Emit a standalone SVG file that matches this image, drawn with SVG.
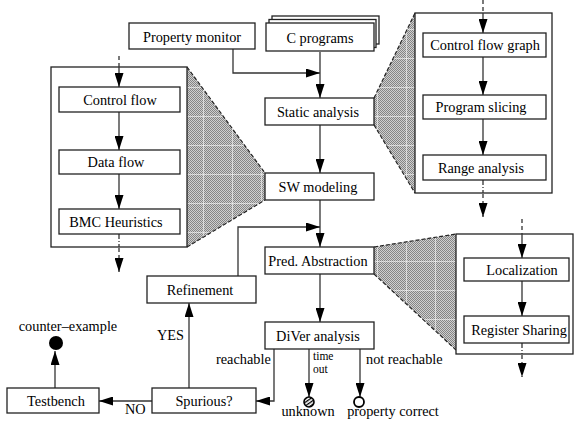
<svg xmlns="http://www.w3.org/2000/svg" width="574" height="423" viewBox="0 0 574 423">
<style>
.box{fill:#fff;stroke:#222;stroke-width:1.3}
.frame{fill:#fff;stroke:#222;stroke-width:1.3}
.t{font-family:"Liberation Serif","Times New Roman",serif;font-size:14.3px;fill:#000}
.s{font-size:11.5px}
.c{text-anchor:middle}
.ln{fill:none;stroke:#333;stroke-width:1.3}
.arr{marker-end:url(#ah)}
.dash{stroke-dasharray:4,3}
.dd{stroke-dasharray:5,2,1,2}
.edge{fill:none;stroke:#222;stroke-width:1.2;stroke-dasharray:4,2}
.shade{fill:url(#chk);stroke:none}
.grid{fill:url(#grd);stroke:none}
</style>
<defs>
<marker id="ah" viewBox="0 0 14 9" refX="14" refY="4.5" markerWidth="14" markerHeight="9" markerUnits="userSpaceOnUse" orient="auto">
<path d="M0,0 L14,4.5 L0,9 Z" fill="#000"/>
</marker>
<pattern id="chk" width="2" height="2" patternUnits="userSpaceOnUse">
<rect width="2" height="2" fill="#cfcfcf"/>
<rect width="1" height="1" fill="#858585"/>
<rect x="1" y="1" width="1" height="1" fill="#858585"/>
</pattern>
<pattern id="grd" width="29" height="29" patternUnits="userSpaceOnUse">
<path d="M0,0.5 H29 M0.5,0 V29" stroke="#fff" stroke-width="1" opacity="0.55" fill="none"/>
</pattern>
<pattern id="diag" width="3" height="3" patternUnits="userSpaceOnUse" patternTransform="rotate(-35)">
<rect width="3" height="3" fill="#fff"/>
<rect width="3" height="1.3" fill="#000"/>
</pattern>
</defs>

<g id="zoom-left">
<polygon class="shade" points="187,67 265,173 265,200 187,247"/>
<polygon class="grid" points="187,67 265,173 265,200 187,247"/>
<path class="edge" d="M187,67 L265,173 M187,247 L265,200"/>
</g>
<g id="zoom-right-top">
<polygon class="shade" points="374,98 415,13 415,193 374,125"/>
<polygon class="grid" points="374,98 415,13 415,193 374,125"/>
<path class="edge" d="M374,98 L415,13 M374,125 L415,193"/>
</g>
<g id="zoom-right-bottom">
<polygon class="shade" points="374,247 456,234 456,350 374,274"/>
<polygon class="grid" points="374,247 456,234 456,350 374,274"/>
<path class="edge" d="M374,247 L456,234 M374,274 L456,350"/>
</g>

<g id="left-frame">
<rect class="frame" x="51" y="67" width="136" height="180"/>
</g>
<g id="right-top-frame">
<rect class="frame" x="415" y="13" width="137" height="180"/>
</g>
<g id="right-bottom-frame">
<rect class="frame" x="456" y="234" width="117" height="120"/>
</g>

<g id="connectors">
<path class="ln arr" d="M233,49 V73 H320"/>
<path class="ln arr" d="M320,52 V98"/>
<path class="ln arr" d="M320,125 V173"/>
<path class="ln arr" d="M320,200 V247"/>
<path class="ln arr" d="M238,276 V227 H320"/>
<path class="ln arr" d="M320,274 V322"/>
<path class="ln arr" d="M274,349 V401 H256"/>
<path class="ln arr" d="M309,349 V397"/>
<path class="ln arr" d="M360,349 V397"/>
<path class="ln arr" d="M189,388 V303"/>
<path class="ln arr" d="M152,401 H99"/>
<path class="ln arr" d="M55,388 V351"/>
<path class="ln dash" d="M119,56 V67"/>
<path class="ln arr" d="M119,67 V87"/>
<path class="ln arr" d="M119,112 V150"/>
<path class="ln arr" d="M119,174 V209"/>
<path class="ln dd" d="M119,234 V247"/>
<path class="ln dash arr" d="M119,248 V272"/>
<path class="ln dash" d="M483,0 V13"/>
<path class="ln arr" d="M483,13 V33"/>
<path class="ln arr" d="M483,57 V95"/>
<path class="ln arr" d="M483,119 V155"/>
<path class="ln dd" d="M483,180 V193"/>
<path class="ln dash arr" d="M483,194 V217"/>
<path class="ln dash" d="M522,219 V234"/>
<path class="ln arr" d="M522,234 V258"/>
<path class="ln arr" d="M522,281 V316"/>
<path class="ln dd" d="M522,343 V354"/>
<path class="ln dash arr" d="M522,355 V377"/>
</g>

<g id="property-monitor">
<rect class="box" x="129" y="23" width="126" height="26"/>
<text class="t c" x="192" y="42">Property monitor</text>
</g>
<g id="c-programs">
<rect class="box" x="272" y="16" width="107" height="28"/>
<rect class="box" x="269" y="19.5" width="107" height="28"/>
<rect class="box" x="266" y="23" width="108" height="28"/>
<text class="t c" x="320" y="43">C programs</text>
</g>
<g id="static-analysis">
<rect class="box" x="265" y="98" width="109" height="27"/>
<text class="t c" x="318" y="117">Static analysis</text>
</g>
<g id="sw-modeling">
<rect class="box" x="265" y="173" width="109" height="27"/>
<text class="t c" x="318" y="192">SW modeling</text>
</g>
<g id="pred-abstraction">
<rect class="box" x="265" y="247" width="109" height="27"/>
<text class="t c" x="318" y="266">Pred. Abstraction</text>
</g>
<g id="diver-analysis">
<rect class="box" x="265" y="322" width="109" height="27"/>
<text class="t c" x="318" y="341">DiVer analysis</text>
</g>
<g id="refinement">
<rect class="box" x="147" y="276" width="109" height="27"/>
<text class="t c" x="200" y="295">Refinement</text>
</g>
<g id="spurious">
<rect class="box" x="152" y="388" width="104" height="25"/>
<text class="t c" x="204" y="406">Spurious?</text>
</g>
<g id="testbench">
<rect class="box" x="7" y="388" width="92" height="25"/>
<text class="t c" x="56" y="406">Testbench</text>
</g>
<g id="control-flow">
<rect class="box" x="59" y="87" width="121" height="25"/>
<text class="t c" x="120" y="105">Control flow</text>
</g>
<g id="data-flow">
<rect class="box" x="59" y="150" width="121" height="24"/>
<text class="t c" x="116" y="167">Data flow</text>
</g>
<g id="bmc-heuristics">
<rect class="box" x="59" y="209" width="121" height="25"/>
<text class="t c" x="116" y="227">BMC Heuristics</text>
</g>
<g id="control-flow-graph">
<rect class="box" x="423" y="33" width="123" height="24"/>
<text class="t c" x="485" y="50">Control flow graph</text>
</g>
<g id="program-slicing">
<rect class="box" x="423" y="95" width="123" height="24"/>
<text class="t c" x="481" y="112">Program slicing</text>
</g>
<g id="range-analysis">
<rect class="box" x="423" y="155" width="123" height="25"/>
<text class="t c" x="481" y="173">Range analysis</text>
</g>
<g id="localization">
<rect class="box" x="464" y="258" width="105" height="23"/>
<text class="t c" x="522" y="275">Localization</text>
</g>
<g id="register-sharing">
<rect class="box" x="464" y="316" width="105" height="27"/>
<text class="t c" x="519" y="335">Register Sharing</text>
</g>

<g id="counter-example">
<circle cx="56" cy="343" r="7" fill="#000"/>
<text class="t c" x="68" y="331">counter–example</text>
</g>
<g id="unknown">
<circle cx="309" cy="402" r="5" fill="url(#diag)" stroke="#000" stroke-width="1.6"/>
<text class="t c" x="308" y="416">unknown</text>
</g>
<g id="property-correct">
<circle cx="359" cy="402" r="5" fill="#fff" stroke="#000" stroke-width="1.8"/>
<text class="t c" x="393" y="416">property correct</text>
</g>

<g id="labels">
<text class="t" x="157" y="340">YES</text>
<text class="t" x="125" y="414">NO</text>
<text class="t" x="216" y="364">reachable</text>
<text class="t s" x="313" y="359.5">time</text>
<text class="t s" x="313" y="372.5">out</text>
<text class="t" x="366" y="364">not reachable</text>
</g>
</svg>
